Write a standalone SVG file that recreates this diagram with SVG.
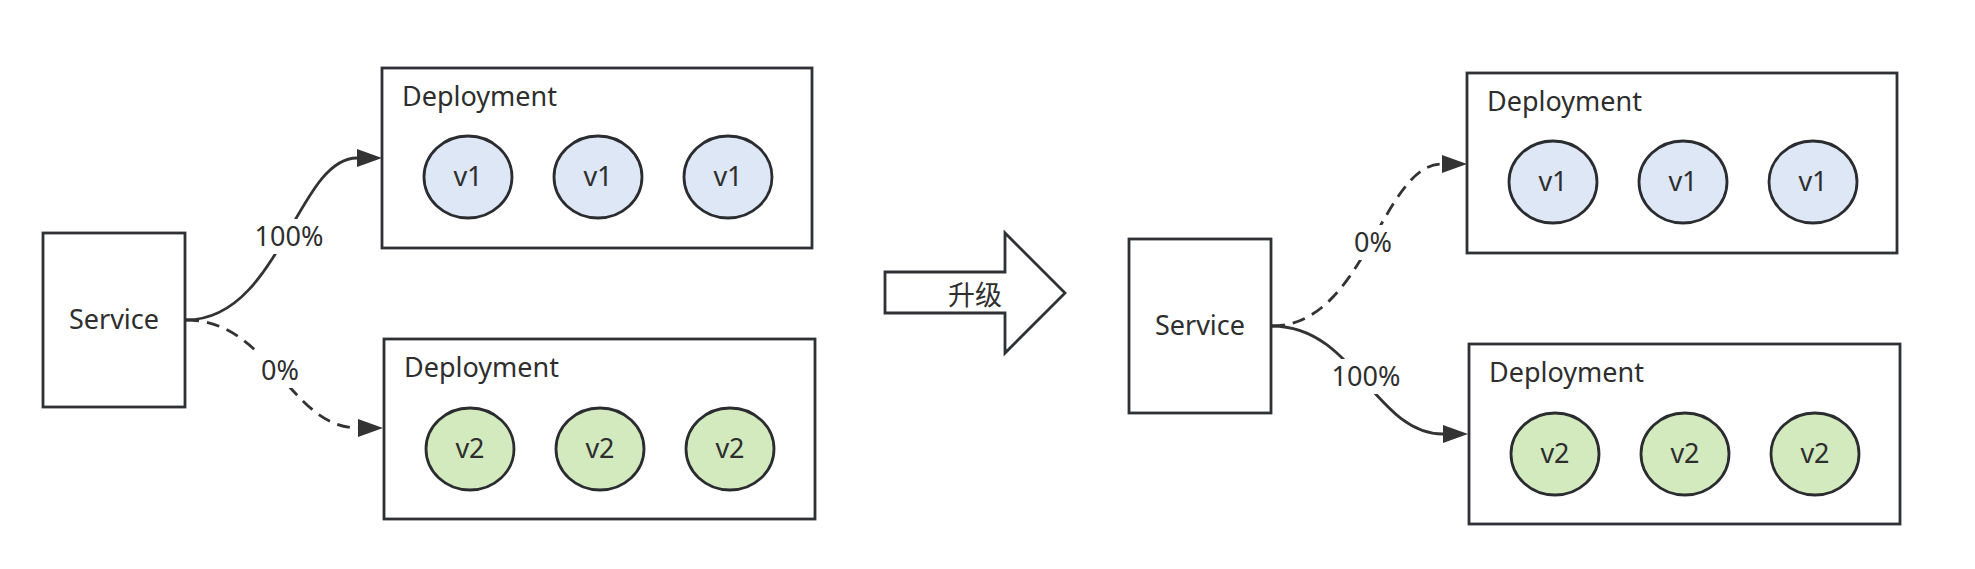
<svg xmlns="http://www.w3.org/2000/svg" width="1975" height="569" viewBox="0 0 1975 569">
<style>
  text { font-family: "Noto Sans", "Noto Sans CJK SC", sans-serif; font-size: 27px; fill: #2e2e2e; }
  .box { fill: #ffffff; stroke: #2f3134; stroke-width: 2.8; }
  .v1 { fill: #dde7f5; stroke: #2a2c2f; stroke-width: 2.8; }
  .v2 { fill: #d3eabf; stroke: #2a2c2f; stroke-width: 2.8; }
  .edge { fill: none; stroke: #333333; stroke-width: 2.8; }
  .dash { stroke-dasharray: 13 8; }
  .lbg { fill: #ffffff; }
  .mid { text-anchor: middle; }
</style>
<defs>
  <marker id="ah" markerUnits="userSpaceOnUse" markerWidth="30" markerHeight="22" viewBox="0 -11 30 22" refX="0" refY="0" orient="auto">
    <path d="M0,-9 L25,0 L0,9 z" fill="#333333"/>
  </marker>
</defs>
<rect width="1975" height="569" fill="#ffffff"/>

<g id="connectors">
  <path class="edge" d="M186,320 C280,320 297,158 357,158" marker-end="url(#ah)"/>
  <path class="edge dash" d="M186,320 C270,320 290,428 358,428" marker-end="url(#ah)"/>
  <path class="edge dash" d="M1272,326 C1365,326 1382,164 1442,164" marker-end="url(#ah)"/>
  <path class="edge" d="M1272,326 C1355,326 1375,434 1443,434" marker-end="url(#ah)"/>
  <rect class="lbg" x="253" y="219" width="72" height="35"/>
  <text class="mid" x="289" y="246">100%</text>
  <rect class="lbg" x="258" y="353" width="44" height="35"/>
  <text class="mid" x="280" y="380">0%</text>
  <rect class="lbg" x="1351" y="225" width="44" height="35"/>
  <text class="mid" x="1373" y="252">0%</text>
  <rect class="lbg" x="1330" y="359" width="72" height="35"/>
  <text class="mid" x="1366" y="386">100%</text>
</g>

<g id="service-left">
  <rect class="box" x="43" y="233" width="142" height="174"/>
  <text class="mid" x="114" y="329">Service</text>
</g>

<g id="deployment-v1-left">
  <rect class="box" x="382" y="68" width="430" height="180"/>
  <text x="402" y="106">Deployment</text>
  <ellipse class="v1" cx="468" cy="177" rx="44" ry="41"/>
  <ellipse class="v1" cx="598" cy="177" rx="44" ry="41"/>
  <ellipse class="v1" cx="728" cy="177" rx="44" ry="41"/>
  <text class="mid" x="468" y="186">v1</text>
  <text class="mid" x="598" y="186">v1</text>
  <text class="mid" x="728" y="186">v1</text>
</g>

<g id="deployment-v2-left">
  <rect class="box" x="384" y="339" width="431" height="180"/>
  <text x="404" y="377">Deployment</text>
  <ellipse class="v2" cx="470" cy="449" rx="44" ry="41"/>
  <ellipse class="v2" cx="600" cy="449" rx="44" ry="41"/>
  <ellipse class="v2" cx="730" cy="449" rx="44" ry="41"/>
  <text class="mid" x="470" y="458">v2</text>
  <text class="mid" x="600" y="458">v2</text>
  <text class="mid" x="730" y="458">v2</text>
</g>

<g id="upgrade-arrow">
  <polygon class="box" points="885,272 1005,272 1005,233 1065,293 1005,353 1005,313 885,313"/>
  <text class="mid" x="975" y="294" dominant-baseline="central">升级</text>
</g>

<g id="service-right">
  <rect class="box" x="1129" y="239" width="142" height="174"/>
  <text class="mid" x="1200" y="335">Service</text>
</g>

<g id="deployment-v1-right">
  <rect class="box" x="1467" y="73" width="430" height="180"/>
  <text x="1487" y="111">Deployment</text>
  <ellipse class="v1" cx="1553" cy="182" rx="44" ry="41"/>
  <ellipse class="v1" cx="1683" cy="182" rx="44" ry="41"/>
  <ellipse class="v1" cx="1813" cy="182" rx="44" ry="41"/>
  <text class="mid" x="1553" y="191">v1</text>
  <text class="mid" x="1683" y="191">v1</text>
  <text class="mid" x="1813" y="191">v1</text>
</g>

<g id="deployment-v2-right">
  <rect class="box" x="1469" y="344" width="431" height="180"/>
  <text x="1489" y="382">Deployment</text>
  <ellipse class="v2" cx="1555" cy="454" rx="44" ry="41"/>
  <ellipse class="v2" cx="1685" cy="454" rx="44" ry="41"/>
  <ellipse class="v2" cx="1815" cy="454" rx="44" ry="41"/>
  <text class="mid" x="1555" y="463">v2</text>
  <text class="mid" x="1685" y="463">v2</text>
  <text class="mid" x="1815" y="463">v2</text>
</g>
</svg>
